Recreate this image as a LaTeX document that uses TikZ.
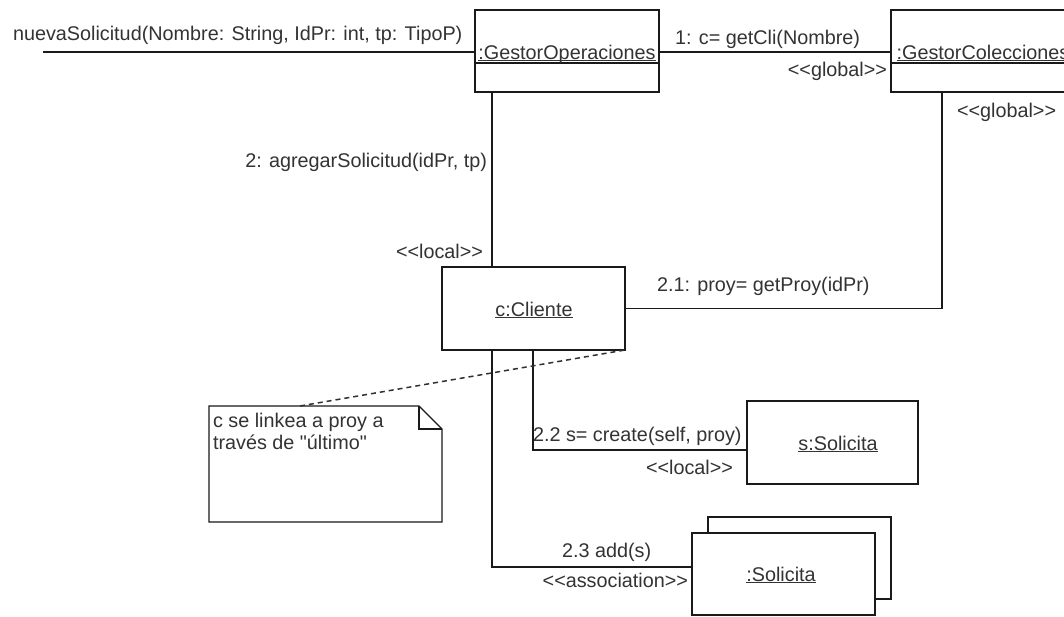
\documentclass[tikz,border=0pt]{standalone}
\usepackage{fontspec}
\setmainfont{Liberation Sans}[Ligatures=TeXOff]
\usetikzlibrary{calc}
\definecolor{txt}{HTML}{333333}
\definecolor{ln}{HTML}{1A1A1A}
\newcommand\myul[1]{\setbox0\hbox{#1}\rlap{\rule[-2.4pt]{\wd0}{1pt}}\box0}
\begin{document}
\begin{tikzpicture}[x=1pt,y=-1pt,
  every node/.style={font=\fontsize{19.8}{22}\selectfont, text=txt, inner sep=0pt, outer sep=0pt},
  obj/.style={draw=ln, line width=1.4pt, fill=white, minimum width=184pt, minimum height=82pt},
  conn/.style={draw=ln, line width=1.4pt},
  notelink/.style={draw=ln!90, line width=1.5pt, dash pattern=on 5pt off 4pt},
  lbl/.style={anchor=base west},
  lble/.style={anchor=base east}]
\useasboundingbox (0,0) rectangle (1064,616);
\fill[white] (0,0) rectangle (1064,616);

% objects
\node[obj] (go) at (567,51) {};
\draw[conn] ([yshift=-12pt]go.west) -- ([yshift=-12pt]go.east);
\node[anchor=base] (goT) at (567,59) {\myul{:GestorOperaciones}};

\node[obj] (gc) at (983,51) {};
\draw[conn] ([yshift=-12pt]gc.west) -- ([yshift=-12pt]gc.east);
\node[anchor=base] (gcT) at (983,59) {\myul{:GestorColecciones}};

\node[obj, minimum width=183pt, minimum height=83pt] (cl) at (533.5,308.5) {};
\node[anchor=base] (clT) at (534,316) {\myul{c:Cliente}};

\node[obj, minimum width=171pt, minimum height=83pt] (ss) at (832.5,442.5) {};
\node[anchor=base] (ssT) at (838,450) {\myul{s:Solicita}};

\node[obj, minimum width=183pt, minimum height=82pt] (solb) at (799.5,558) {};
\node[obj, minimum width=183pt, minimum height=82pt] (sol) at (783.5,574) {};
\node[anchor=base] (solT) at (781,581) {\myul{:Solicita}};

% note
\node[minimum width=233pt, minimum height=116pt] (note) at (325.5,464) {};
\draw[conn, fill=white] (note.north west) -- ([xshift=-23pt]note.north east)
  -- ([yshift=-23pt]note.north east) -- (note.south east) -- (note.south west) -- cycle;
\draw[conn] ([xshift=-23pt]note.north east) |- ([yshift=-23pt]note.north east);
\node[lbl] (noteT1) at (213,427) {c se linkea a proy a};
\node[lbl] (noteT2) at (213,449) {través de "último"};

% connectors
\coordinate (start) at (43,52);
\draw[conn] (start) -- (go.west |- start);
\draw[conn] (go.east |- start) -- (gc.west |- start);
\draw[conn] ([xshift=-75pt]go.south) -- ([xshift=-41.5pt]cl.north);
\draw[conn] ([xshift=-41pt]gc.south) |- (cl.east);
\draw[conn] ([xshift=-0.5pt]cl.south) |- ([yshift=-7.5pt]ss.west);
\draw[conn] ([xshift=-41.5pt]cl.south) |- ([yshift=7pt]sol.west);
\draw[notelink] ([xshift=-25.5pt]note.north) -- (cl.south east);

% labels
\node[lbl] (l0) at (13,40) {nuevaSolicitud(Nombre: String, IdPr: int, tp: TipoP)};
\node[lbl] (l1) at (675,44) {1: c= getCli(Nombre)};
\node[lble] (l1s) at (887,76) {<{}<global>{}>};
\node[lbl] (l1b) at (957,117) {<{}<global>{}>};
\node[lble] (l2) at (487,167) {2: agregarSolicitud(idPr, tp)};
\node[lble] (l2s) at (483,258) {<{}<local>{}>};
\node[lbl] (l21) at (657,291) {2.1: proy= getProy(idPr)};
\node[lbl] (l22) at (533,441) {2.2 s= create(self, proy)};
\node[lble] (l22s) at (733,474) {<{}<local>{}>};
\node[lbl] (l23) at (562,557) {2.3 add(s)};
\node[lble] (l23s) at (688,587) {<{}<association>{}>};
\end{tikzpicture}
\end{document}
